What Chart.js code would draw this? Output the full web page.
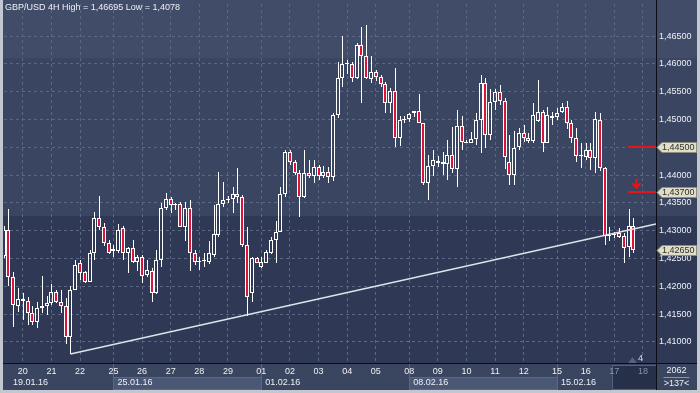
<!DOCTYPE html>
<html>
<head>
<meta charset="utf-8">
<script src="https://cdn.jsdelivr.net/npm/chart.js@4.4.0/dist/chart.umd.min.js"></script>
<style>
  html, body { margin: 0; padding: 0; background: #3a4560; }
  canvas { display: block; }
</style>
</head>
<body>
<canvas id="gbpusd-chart" width="700" height="393"></canvas>
<script>
// GBP/USD 4H candles, index 0 = first (partly hidden) bar on the left
const opens = [
  1.4254, 1.4302, 1.4217, 1.4164, 1.4177, 1.4173, 1.4151, 1.4135, 1.4160, 1.4164,
  1.4169, 1.4189, 1.4171, 1.4164, 1.4109, 1.4194, 1.4241, 1.4225, 1.4208, 1.4259,
  1.4322, 1.4306, 1.4277, 1.4264, 1.4264, 1.4304, 1.4260, 1.4268, 1.4244, 1.4253,
  1.4220, 1.4228, 1.4187, 1.4248, 1.4340, 1.4356, 1.4346, 1.4347, 1.4307, 1.4340,
  1.4260, 1.4244, 1.4245, 1.4244, 1.4257, 1.4292, 1.4348, 1.4355, 1.4356, 1.4365,
  1.4360, 1.4274, 1.4187, 1.4250, 1.4235, 1.4242, 1.4260, 1.4283, 1.4298, 1.4365,
  1.4442, 1.4423, 1.4403, 1.4360, 1.4403, 1.4398, 1.4414, 1.4398, 1.4405, 1.4396,
  1.4508, 1.4574, 1.4600, 1.4600, 1.4574, 1.4634, 1.4614, 1.4572, 1.4585, 1.4576,
  1.4563, 1.4529, 1.4551, 1.4466, 1.4499, 1.4501, 1.4512, 1.4515, 1.4493, 1.4385,
  1.4416, 1.4426, 1.4423, 1.4419, 1.4436, 1.4411, 1.4489, 1.4460, 1.4457, 1.4465,
  1.4499, 1.4565, 1.4472, 1.4531, 1.4550, 1.4534, 1.4424, 1.4400, 1.4451, 1.4475,
  1.4466, 1.4462, 1.4498, 1.4513, 1.4457, 1.4507, 1.4504, 1.4514, 1.4523, 1.4493,
  1.4466, 1.4435, 1.4433, 1.4445, 1.4430, 1.4499, 1.4412, 1.4290, 1.4292, 1.4295,
  1.4290, 1.4271, 1.4308,
];
const highs = [
  1.4308, 1.4338, 1.4226, 1.4197, 1.4187, 1.4181, 1.4164, 1.4172, 1.4218, 1.4182,
  1.4204, 1.4193, 1.4194, 1.4178, 1.4200, 1.4248, 1.4247, 1.4228, 1.4265, 1.4334,
  1.4362, 1.4313, 1.4283, 1.4274, 1.4312, 1.4308, 1.4271, 1.4284, 1.4256, 1.4256,
  1.4247, 1.4232, 1.4266, 1.4350, 1.4368, 1.4360, 1.4350, 1.4352, 1.4352, 1.4355,
  1.4266, 1.4253, 1.4260, 1.4282, 1.4346, 1.4406, 1.4388, 1.4362, 1.4379, 1.4412,
  1.4364, 1.4306, 1.4253, 1.4253, 1.4253, 1.4265, 1.4289, 1.4317, 1.4378, 1.4445,
  1.4445, 1.4427, 1.4409, 1.4445, 1.4427, 1.4427, 1.4418, 1.4416, 1.4415, 1.4511,
  1.4604, 1.4650, 1.4606, 1.4604, 1.4638, 1.4666, 1.46695, 1.4614, 1.4589, 1.4580,
  1.4568, 1.4556, 1.4592, 1.4506, 1.4506, 1.4511, 1.4515, 1.4546, 1.4493, 1.4436,
  1.4445, 1.4434, 1.4442, 1.4463, 1.4487, 1.4517, 1.4506, 1.4463, 1.4478, 1.4512,
  1.4580, 1.4574, 1.4554, 1.4554, 1.4562, 1.4538, 1.4472, 1.4480, 1.4484, 1.4490,
  1.4475, 1.4529, 1.4571, 1.4517, 1.4522, 1.4514, 1.4520, 1.4529, 1.4534, 1.4499,
  1.4484, 1.4457, 1.4457, 1.4457, 1.4514, 1.4511, 1.4415, 1.4307, 1.4298, 1.4304,
  1.4295, 1.4338, 1.4322,
];
const lows = [
  1.4251, 1.4200, 1.4127, 1.4154, 1.4140, 1.4131, 1.4130, 1.4124, 1.4151, 1.4148,
  1.4166, 1.4169, 1.4151, 1.4096, 1.4078, 1.4193, 1.4211, 1.4205, 1.4207, 1.4247,
  1.4301, 1.4272, 1.4258, 1.4252, 1.4260, 1.4248, 1.4223, 1.4242, 1.4228, 1.4205,
  1.4217, 1.4172, 1.4186, 1.4235, 1.4337, 1.4332, 1.4337, 1.4306, 1.4282, 1.4228,
  1.4238, 1.4230, 1.4235, 1.4240, 1.4253, 1.4289, 1.4343, 1.4350, 1.4331, 1.4350,
  1.4270, 1.4146, 1.4172, 1.4241, 1.4233, 1.4241, 1.4258, 1.4241, 1.4297, 1.4360,
  1.4418, 1.4400, 1.4325, 1.4358, 1.4394, 1.4386, 1.4391, 1.4394, 1.4385, 1.4390,
  1.4502, 1.4559, 1.4582, 1.4568, 1.4572, 1.4529, 1.4572, 1.4565, 1.4570, 1.4559,
  1.4512, 1.4511, 1.4451, 1.4452, 1.4493, 1.4496, 1.4505, 1.4493, 1.4382, 1.4355,
  1.4399, 1.4415, 1.4400, 1.4391, 1.4403, 1.4378, 1.4445, 1.4457, 1.4457, 1.4454,
  1.4440, 1.4448, 1.4463, 1.4517, 1.4526, 1.4410, 1.4382, 1.4382, 1.4445, 1.4460,
  1.4458, 1.4457, 1.4496, 1.4442, 1.4457, 1.4490, 1.4499, 1.4511, 1.4483, 1.4457,
  1.4424, 1.4412, 1.4427, 1.4409, 1.4404, 1.4408, 1.4274, 1.4281, 1.4286, 1.4286,
  1.4242, 1.4252, 1.4260,
];
const closes = [
  1.4302, 1.4217, 1.4167, 1.4177, 1.4173, 1.4151, 1.4135, 1.4160, 1.4164, 1.4169,
  1.4189, 1.4171, 1.4164, 1.4109, 1.4194, 1.4239, 1.4223, 1.4207, 1.4260, 1.4322,
  1.4307, 1.4277, 1.4260, 1.4267, 1.4302, 1.4260, 1.4268, 1.4244, 1.4252, 1.4218,
  1.4229, 1.4187, 1.4248, 1.4340, 1.4356, 1.4346, 1.4347, 1.4307, 1.4340, 1.4260,
  1.4244, 1.4245, 1.4246, 1.4260, 1.4294, 1.4348, 1.4355, 1.4356, 1.4366, 1.4360,
  1.4274, 1.4181, 1.4250, 1.4242, 1.4243, 1.4261, 1.4284, 1.4298, 1.4365, 1.4442,
  1.4424, 1.4403, 1.4360, 1.4403, 1.4398, 1.4414, 1.4398, 1.4406, 1.4396, 1.4508,
  1.4574, 1.4600, 1.4601, 1.4574, 1.4634, 1.4614, 1.4574, 1.4585, 1.4576, 1.4563,
  1.4529, 1.4551, 1.4466, 1.4499, 1.4501, 1.4509, 1.4515, 1.4493, 1.4385, 1.4416,
  1.4427, 1.4421, 1.4419, 1.4436, 1.4411, 1.4488, 1.4460, 1.4458, 1.4465, 1.4499,
  1.4565, 1.4472, 1.4531, 1.4550, 1.4534, 1.4432, 1.4400, 1.4448, 1.4475, 1.4466,
  1.4462, 1.4508, 1.4513, 1.4457, 1.4508, 1.4502, 1.4511, 1.4523, 1.4493, 1.4466,
  1.4435, 1.4436, 1.4445, 1.4430, 1.4500, 1.4412, 1.4290, 1.4292, 1.4293, 1.4289,
  1.4269, 1.4308, 1.4265,
];

// day separators (bar index of the first bar of each day) and their labels
const dayIdx = [4, 10, 16, 23, 29, 35, 41, 47, 54, 60, 66, 72, 78, 85, 91, 97, 103, 109, 116, 122, 128, 134];
const dayLabels = ["20", "21", "22", "25", "26", "27", "28", "29", "01", "02", "03", "04", "05", "08", "09", "10", "11", "12", "15", "16", "17", "18"];
const weekIdx = [0.06, 23, 54, 85, 116];
const weekLabels = ["19.01.16", "25.01.16", "01.02.16", "08.02.16", "15.02.16"];
const todayIdx = 128;

const yTicks = [1.41, 1.415, 1.42, 1.425, 1.43, 1.435, 1.44, 1.445, 1.45, 1.455, 1.46, 1.465];

// support line drawn from the 1,4078 low
const trendX = [14, 136.75];
const trendY = [1.4078, 1.4312];

const levels = [1.445, 1.437];
const lastPrice = 1.4265;

const RED = "#dc143c";
const GRID = "#5b6783";
const FONT = '"Liberation Sans", Arial, sans-serif';

function fmt(v) {
  return v.toFixed(5).replace(".", ",");
}

const bodies = opens.map((o, i) => ({ x: i, y: [o, closes[i]] }));
const upperWicks = opens.map((o, i) => ({ x: i, y: [Math.max(o, closes[i]), highs[i]] }));
const lowerWicks = opens.map((o, i) => ({ x: i, y: [lows[i], Math.min(o, closes[i])] }));

// snap candle pieces to whole pixels so they stay crisp like the terminal
const pixelSnap = {
  id: "pixelSnap",
  beforeDatasetsDraw(chart) {
    chart.getSortedVisibleDatasetMetas().forEach((meta) => {
      if (meta.type !== "bar") return;
      const isBody = meta.index === 1;
      meta.data.forEach((el) => {
        const c = Math.round(el.x);
        el.x = isBody ? c : c + 0.5;
        let top = Math.round(el.y);
        let base = Math.round(el.base);
        if (isBody && top === base) base = top + 1;
        el.y = top;
        el.base = base;
      });
    });
  },
};

const panel = {
  id: "panel",
  beforeDraw(chart) {
    const { ctx, chartArea: a, scales: { x } } = chart;
    const W = chart.width, H = chart.height;
    ctx.save();
    // background steps
    ctx.fillStyle = "#414c69";
    ctx.fillRect(0, 0, W, 58);
    ctx.fillStyle = "#3a4562";
    ctx.fillRect(0, 58, W, 158);
    ctx.fillStyle = "#2f3955";
    ctx.fillRect(0, 216, W, a.bottom - 216);
    // time axis strip
    ctx.fillStyle = "#3a4560";
    ctx.fillRect(0, a.bottom, W, H - a.bottom);

    // week bands in the second row
    const rowTop = a.bottom + 14;
    weekIdx.forEach((w, i) => {
      const x0 = i === 0 ? 0 : x.getPixelForValue(w);
      const x1 = i < weekIdx.length - 1 ? x.getPixelForValue(weekIdx[i + 1]) : x.getPixelForValue(todayIdx - 0.5);
      if (i % 2 === 1) {
        ctx.fillStyle = "#4a5775";
        ctx.fillRect(x0, rowTop, x1 - x0, H - 3 - rowTop);
        ctx.strokeStyle = "#5b6885";
        ctx.strokeRect(Math.round(x0) + 0.5, rowTop + 0.5, Math.round(x1 - x0), H - 4 - rowTop);
      }
      if (i > 0) {
        ctx.strokeStyle = "#5b6885";
        ctx.beginPath();
        ctx.moveTo(Math.round(x0) + 0.5, a.bottom);
        ctx.lineTo(Math.round(x0) + 0.5, H - 3);
        ctx.stroke();
      }
    });

    // current day box
    const tx = x.getPixelForValue(todayIdx - 0.5);
    ctx.fillStyle = "#263049";
    ctx.fillRect(tx, a.bottom + 2, a.right - tx, H - 5 - a.bottom);
    ctx.strokeStyle = "#55617c";
    ctx.strokeRect(Math.round(tx) + 0.5, a.bottom + 2.5, Math.round(a.right - tx), H - 6 - a.bottom);
    ctx.restore();
  },
  afterDraw(chart) {
    const { ctx, chartArea: a, scales: { x, y } } = chart;
    const W = chart.width, H = chart.height;
    ctx.save();

    // week labels
    ctx.font = "9px " + FONT;
    ctx.fillStyle = "#eef0f4";
    ctx.textBaseline = "middle";
    ctx.textAlign = "left";
    weekIdx.forEach((w, i) => {
      const lx = i === 0 ? a.left + 9 : x.getPixelForValue(w) + 4;
      ctx.fillText(weekLabels[i], lx, a.bottom + 20);
    });

    // frame separators
    ctx.strokeStyle = "#0a0d14";
    ctx.lineWidth = 1;
    ctx.beginPath();
    ctx.moveTo(0, a.bottom + 0.5);
    ctx.lineTo(W, a.bottom + 0.5);
    ctx.moveTo(a.right + 0.5, 0);
    ctx.lineTo(a.right + 0.5, H - 3);
    ctx.stroke();

    // red levels
    ctx.fillStyle = "#e8141c";
    levels.forEach((lv) => {
      const py = Math.round(y.getPixelForValue(lv));
      ctx.fillRect(a.right - 28, py - 1, 28, 2);
    });
    // sell arrow above the lower level
    const ay = y.getPixelForValue(levels[1]);
    const ax = a.right - 19.5;
    ctx.strokeStyle = "#e8141c";
    ctx.lineWidth = 2;
    ctx.beginPath();
    ctx.moveTo(ax, ay - 13);
    ctx.lineTo(ax, ay - 4);
    ctx.moveTo(ax - 4, ay - 8.5);
    ctx.lineTo(ax, ay - 4);
    ctx.lineTo(ax + 4, ay - 8.5);
    ctx.stroke();

    // price tags on the axis
    ctx.lineWidth = 1;
    ctx.font = "9px " + FONT;
    [...levels, lastPrice].forEach((p) => {
      const py = Math.round(y.getPixelForValue(p)) + 0.5;
      const l = a.right + 1;
      ctx.beginPath();
      ctx.moveTo(l, py);
      ctx.lineTo(l + 5, py - 5);
      ctx.lineTo(W - 3.5, py - 5);
      ctx.lineTo(W - 3.5, py + 5);
      ctx.lineTo(l + 5, py + 5);
      ctx.closePath();
      ctx.fillStyle = "#e0dec6";
      ctx.fill();
      ctx.strokeStyle = "#8e8e80";
      ctx.stroke();
      ctx.fillStyle = "#2e2e2e";
      ctx.textAlign = "left";
      ctx.fillText(fmt(p), l + 5, py + 0.5);
    });

    // bar counter marker
    ctx.fillStyle = "#56617b";
    ctx.beginPath();
    ctx.moveTo(a.right - 28, a.bottom);
    ctx.lineTo(a.right - 23.5, a.bottom - 6);
    ctx.lineTo(a.right - 19, a.bottom);
    ctx.closePath();
    ctx.fill();
    ctx.fillStyle = "#d4d9e2";
    ctx.textAlign = "left";
    ctx.fillText("4", a.right - 18, a.bottom - 4);

    // bottom right info
    ctx.textAlign = "center";
    ctx.fillStyle = "#eef0f4";
    const cx = (a.right + W - 3) / 2;
    ctx.fillText("2062", cx, a.bottom + 8);
    ctx.fillText(">137<", cx, a.bottom + 21);
    ctx.strokeStyle = "#8b94a8";
    ctx.beginPath();
    ctx.moveTo(cx - 13, a.bottom + 14.5);
    ctx.lineTo(cx + 13, a.bottom + 14.5);
    ctx.stroke();

    // title
    ctx.textAlign = "left";
    ctx.fillStyle = "#eef0f4";
    ctx.fillText("GBP/USD 4H High = 1,46695 Low = 1,4078", 5, 8);

    // outer frame
    ctx.fillStyle = "#c3c7cf";
    ctx.fillRect(0, 0, 3, H);
    ctx.fillRect(W - 3, 0, 3, H);
    ctx.fillRect(0, H - 3, W, 3);
    ctx.restore();
  },
};

const config = {
  type: "bar",
  data: {
    datasets: [
      {
        type: "line",
        label: "Support",
        data: trendX.map((v, i) => ({ x: v, y: trendY[i] })),
        borderColor: "#dfe3ea",
        borderWidth: 1.5,
        pointRadius: 0,
        order: -1,
      },
      {
        label: "Body",
        data: bodies,
        grouped: false,
        barThickness: 4,
        minBarLength: 1,
        inflateAmount: 0,
        borderWidth: 1,
        borderSkipped: false,
        borderColor: "#ffffff",
        backgroundColor: (c) => (closes[c.dataIndex] < opens[c.dataIndex] ? RED : "rgba(0,0,0,0)"),
        order: 0,
      },
      {
        label: "Upper wick",
        data: upperWicks,
        grouped: false,
        barThickness: 1,
        inflateAmount: 0,
        borderWidth: 0,
        backgroundColor: "#ffffff",
        order: 1,
      },
      {
        label: "Lower wick",
        data: lowerWicks,
        grouped: false,
        barThickness: 1,
        inflateAmount: 0,
        borderWidth: 0,
        backgroundColor: "#ffffff",
        order: 1,
      },
    ],
  },
  options: {
    responsive: false,
    animation: false,
    devicePixelRatio: 1,
    layout: { padding: { left: 4, top: 4, right: 0, bottom: 0 } },
    scales: {
      x: {
        type: "linear",
        position: "bottom",
        offset: false,
        min: 0.06,
        max: 136.75,
        afterBuildTicks: (s) => {
          s.ticks = dayIdx.map((v) => ({ value: v }));
        },
        afterFit: (s) => {
          s.height = 30;
          s.paddingLeft = 0;
          s.paddingRight = 0;
        },
        grid: { color: GRID, drawTicks: false, offset: false },
        border: { display: false, dash: [3, 3] },
        ticks: {
          autoSkip: false,
          maxRotation: 0,
          padding: 3,
          font: { family: FONT, size: 9 },
          color: (c) => (c.tick && c.tick.value >= todayIdx ? "#8a93a7" : "#eef0f4"),
          callback: (v, i) => dayLabels[i],
        },
      },
      y: {
        position: "right",
        min: 1.40619,
        max: 1.47076,
        afterBuildTicks: (s) => {
          s.ticks = yTicks.map((v) => ({ value: v }));
        },
        afterFit: (s) => {
          s.width = 44;
          s.paddingTop = 0;
          s.paddingBottom = 0;
        },
        grid: { color: GRID, drawTicks: false },
        border: { display: false, dash: [3, 3] },
        ticks: {
          padding: 3,
          crossAlign: "near",
          font: { family: FONT, size: 9 },
          color: "#eef0f4",
          callback: (v) => fmt(v),
        },
      },
    },
    plugins: {
      legend: { display: false },
      tooltip: { enabled: false },
    },
  },
  plugins: [pixelSnap, panel],
};

const candleChart = new Chart(document.getElementById("gbpusd-chart"), config);
</script>
</body>
</html>
